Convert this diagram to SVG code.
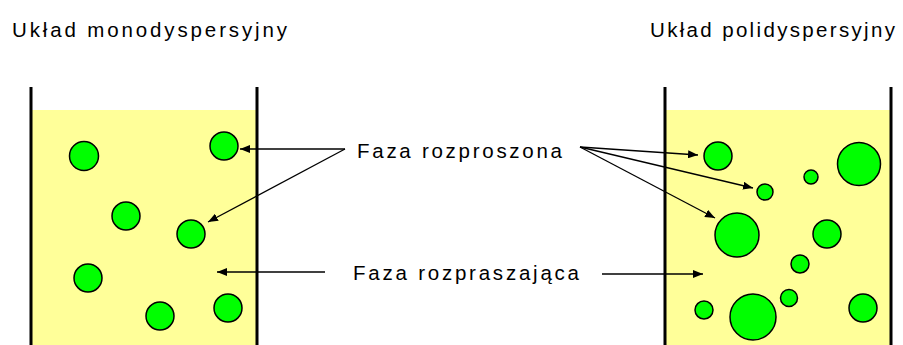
<svg xmlns="http://www.w3.org/2000/svg" width="903" height="345" viewBox="0 0 903 345">
  <style>
    .label { font-family: "Liberation Sans", Arial, sans-serif; font-size: 20.5px; fill: #000; }
    .liquid { fill: #ffff99; }
    .wall { stroke: #000; stroke-width: 3; fill: none; }
    .drop { fill: #00ff00; stroke: #000; stroke-width: 1.5; }
    .arrow { stroke: #000; stroke-width: 1.3; fill: none; marker-end: url(#head); }
  </style>
  <defs>
    <marker id="head" viewBox="0 0 10 8" refX="10" refY="4" markerWidth="10" markerHeight="8" markerUnits="userSpaceOnUse" orient="auto">
      <path d="M0,0 L10,4 L0,8 Z" fill="#000"/>
    </marker>
  </defs>

  <text class="label" x="12" y="37" textLength="275" lengthAdjust="spacing">Układ monodyspersyjny</text>
  <text class="label" x="650" y="37" textLength="245" lengthAdjust="spacing">Układ polidyspersyjny</text>

  <!-- monodisperse vessel -->
  <g id="vessel-mono">
    <rect class="liquid" x="31" y="110" width="226" height="235"/>
    <path class="wall" d="M31,87 V345 M257,87 V345"/>
    <circle class="drop" cx="84" cy="156" r="14.5"/>
    <circle class="drop" cx="224" cy="146" r="14"/>
    <circle class="drop" cx="126" cy="216" r="14"/>
    <circle class="drop" cx="191" cy="234" r="14"/>
    <circle class="drop" cx="88" cy="278" r="14"/>
    <circle class="drop" cx="160" cy="316" r="14"/>
    <circle class="drop" cx="228" cy="308" r="14"/>
  </g>

  <!-- polydisperse vessel -->
  <g id="vessel-poly">
    <rect class="liquid" x="665" y="110" width="226" height="235"/>
    <path class="wall" d="M665,87 V345 M891,87 V345"/>
    <circle class="drop" cx="718" cy="156" r="14"/>
    <circle class="drop" cx="859" cy="164" r="21.5"/>
    <circle class="drop" cx="811" cy="177" r="7"/>
    <circle class="drop" cx="765" cy="192" r="8"/>
    <circle class="drop" cx="737" cy="235" r="22"/>
    <circle class="drop" cx="827" cy="234" r="14"/>
    <circle class="drop" cx="800" cy="264" r="9"/>
    <circle class="drop" cx="789" cy="298" r="8.5"/>
    <circle class="drop" cx="704" cy="310" r="9"/>
    <circle class="drop" cx="753" cy="317" r="23"/>
    <circle class="drop" cx="863" cy="308" r="14"/>
  </g>

  <g id="label-dispersed">
    <text class="label" x="357" y="158" textLength="205" lengthAdjust="spacing">Faza rozproszona</text>
  </g>
  <g id="label-medium">
    <text class="label" x="353" y="280" textLength="226" lengthAdjust="spacing">Faza rozpraszająca</text>
  </g>

  <g id="connectors">
    <line class="arrow" x1="345" y1="149" x2="240" y2="149"/>
    <line class="arrow" x1="345" y1="149" x2="208" y2="222"/>
    <line class="arrow" x1="580" y1="147" x2="698" y2="155"/>
    <line class="arrow" x1="580" y1="147" x2="753" y2="188"/>
    <line class="arrow" x1="580" y1="147" x2="715" y2="218"/>
    <line class="arrow" x1="325" y1="272" x2="217" y2="272"/>
    <line class="arrow" x1="602" y1="274" x2="703" y2="274"/>
  </g>
</svg>
